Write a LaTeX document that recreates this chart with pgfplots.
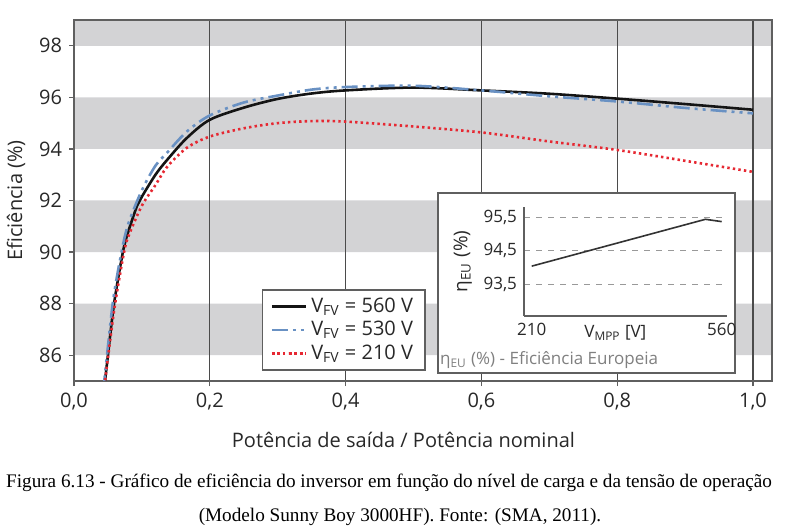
\documentclass[border=0pt]{standalone}
\usepackage{fontspec}
\setmainfont{Open Sans}
\newfontfamily\capfont{Liberation Serif}
\usepackage{pgfplots}
\pgfplotsset{compat=1.18}

\definecolor{bandgray}{RGB}{211,211,213}
\definecolor{gridc}{RGB}{75,75,75}
\definecolor{framec}{RGB}{95,95,95}
\definecolor{textc}{RGB}{40,40,40}
\definecolor{c560}{RGB}{20,20,20}
\definecolor{c530}{RGB}{105,145,195}
\definecolor{c210}{RGB}{230,40,50}

\begin{document}
\begin{tikzpicture}
\begin{axis}[
    set layers,
    scale only axis,
    width=349pt, height=180.5pt,
    at={(0pt,0pt)}, anchor=south west,
    xmin=0, xmax=1.028, ymin=85, ymax=99,
    xtick={0,0.2,0.4,0.6,0.8,1},
    ytick={86,88,90,92,94,96,98},
    xtick pos=bottom, ytick pos=left,
    tick align=outside, major tick length=2.5pt,
    xmajorgrids,
    grid style={color=gridc, line width=0.6pt},
    axis line style={framec, line width=0.6pt},
    tick style={framec, line width=0.6pt},
    font=\fontsize{10}{12}\selectfont,
    every tick label/.append style={text=textc},
    /pgf/number format/assume math mode=true,
    xticklabel style={/pgf/number format/.cd, fixed, fixed zerofill, precision=1, use comma},
    yticklabel style={/pgf/number format/.cd, fixed, precision=0},
    xlabel={Potência de saída / Potência nominal},
    xlabel style={at={(axis description cs:0.472,0)}, anchor=north, yshift=-22pt},
    ylabel={Eficiência (\%)},
    label style={text=textc},
    legend style={
        at={(0.269,0.255)}, anchor=north west,
        draw=framec, line width=0.8pt, fill=white,
        font=\fontsize{10}{12}\selectfont, text=textc,
        row sep=-1pt, inner xsep=4pt,
    },
    legend cell align=left,
]
% faixas cinzentas de fundo
\addplot[fill=bandgray, draw=none, on layer=axis background, forget plot]
    coordinates {(0,86) (1.028,86) (1.028,88) (0,88) (0,86)};
\addplot[fill=bandgray, draw=none, on layer=axis background, forget plot]
    coordinates {(0,90) (1.028,90) (1.028,92) (0,92) (0,90)};
\addplot[fill=bandgray, draw=none, on layer=axis background, forget plot]
    coordinates {(0,94) (1.028,94) (1.028,96) (0,96) (0,94)};
\addplot[fill=bandgray, draw=none, on layer=axis background, forget plot]
    coordinates {(0,98) (1.028,98) (1.028,99) (0,99) (0,98)};

% V_FV = 560 V
\addplot[c560, line width=1.3pt, smooth] coordinates {
    (0.044,84.6) (0.050,86.0) (0.059,88.0) (0.072,90.0) (0.080,90.8)
    (0.093,91.8) (0.100,92.15) (0.120,93.0) (0.137,93.57) (0.166,94.42)
    (0.200,95.13) (0.250,95.6) (0.300,95.94) (0.350,96.15) (0.400,96.27)
    (0.500,96.38) (0.600,96.27) (0.700,96.14) (0.800,95.95) (0.900,95.74)
    (1.000,95.52)};
\addlegendentry{V\textsubscript{FV} = 560 V}

% V_FV = 530 V
\addplot[c530, line width=1.3pt, smooth,
    dash pattern=on 8pt off 2.5pt on 1.5pt off 2.5pt on 1.5pt off 2.5pt] coordinates {
    (0.043,84.6) (0.049,86.1) (0.058,88.2) (0.070,90.0) (0.080,91.1)
    (0.100,92.4) (0.120,93.35) (0.137,93.85) (0.166,94.67) (0.200,95.3)
    (0.250,95.8) (0.300,96.07) (0.350,96.3) (0.400,96.4) (0.500,96.45)
    (0.600,96.27) (0.700,96.04) (0.800,95.84) (0.900,95.59) (1.000,95.38)};
\addlegendentry{V\textsubscript{FV} = 530 V}

% V_FV = 210 V
\addplot[c210, line width=1.3pt, smooth,
    dash pattern=on 1.2pt off 1.6pt] coordinates {
    (0.044,84.6) (0.050,85.9) (0.060,87.9) (0.073,89.9) (0.080,90.6)
    (0.100,91.8) (0.120,92.6) (0.137,93.3) (0.166,94.04) (0.200,94.48)
    (0.250,94.8) (0.300,95.0) (0.350,95.08) (0.400,95.06) (0.500,94.87)
    (0.600,94.64) (0.700,94.29) (0.800,93.96) (0.900,93.54) (1.000,93.11)};
\addlegendentry{V\textsubscript{FV} = 210 V}
\end{axis}

% caixa do gráfico interno
\draw[framec, line width=0.8pt, fill=white] (182pt,4pt) rectangle (330.5pt,94pt);
\node[anchor=west, text=gray, font=\fontsize{8.5}{10}\selectfont]
    at (179.5pt,10.5pt) {η\textsubscript{EU} (\%) - Eficiência Europeia};

\begin{axis}[
    scale only axis,
    width=101.5pt, height=54.5pt,
    at={(225pt,32.5pt)}, anchor=south west,
    xmin=195.8, xmax=569.8, ymin=92.54, ymax=95.82,
    axis x line*=bottom, axis y line*=left,
    axis line style={framec, line width=0.6pt},
    xtick={210,560}, ytick={93.5,94.5,95.5},
    major tick length=0pt,
    ymajorgrids,
    grid style={dashed, gray!80, line width=0.5pt},
    font=\fontsize{8.5}{10}\selectfont,
    every tick label/.append style={text=textc},
    /pgf/number format/assume math mode=true,
    yticklabel style={/pgf/number format/.cd, fixed, fixed zerofill, precision=1, use comma},
    xlabel={V\textsubscript{MPP} [V]},
    xlabel style={at={(axis description cs:0.45,0)}, anchor=north, yshift=-1pt, text=textc},
    ylabel={η\textsubscript{EU} (\%)},
    ylabel style={text=textc, yshift=-1pt, font=\fontsize{9.5}{11}\selectfont},
]
\addplot[black!80, line width=0.8pt] coordinates {(210,94.04) (530,95.45) (560,95.38)};
\end{axis}

% legenda da figura
\node[font=\capfont\fontsize{9.6}{11}\selectfont] at (157.5pt,-51pt)
    {Figura 6.13 - Gráfico de eficiência do inversor em função do nível de carga e da tensão de operação};
\node[font=\capfont\fontsize{9.6}{11}\selectfont] at (163pt,-68pt)
    {(Modelo Sunny Boy 3000HF). Fonte: (SMA, 2011).};

\pgfresetboundingbox
\useasboundingbox (-37pt,-74.5pt) rectangle (359pt,190.5pt);
\end{tikzpicture}
\end{document}
